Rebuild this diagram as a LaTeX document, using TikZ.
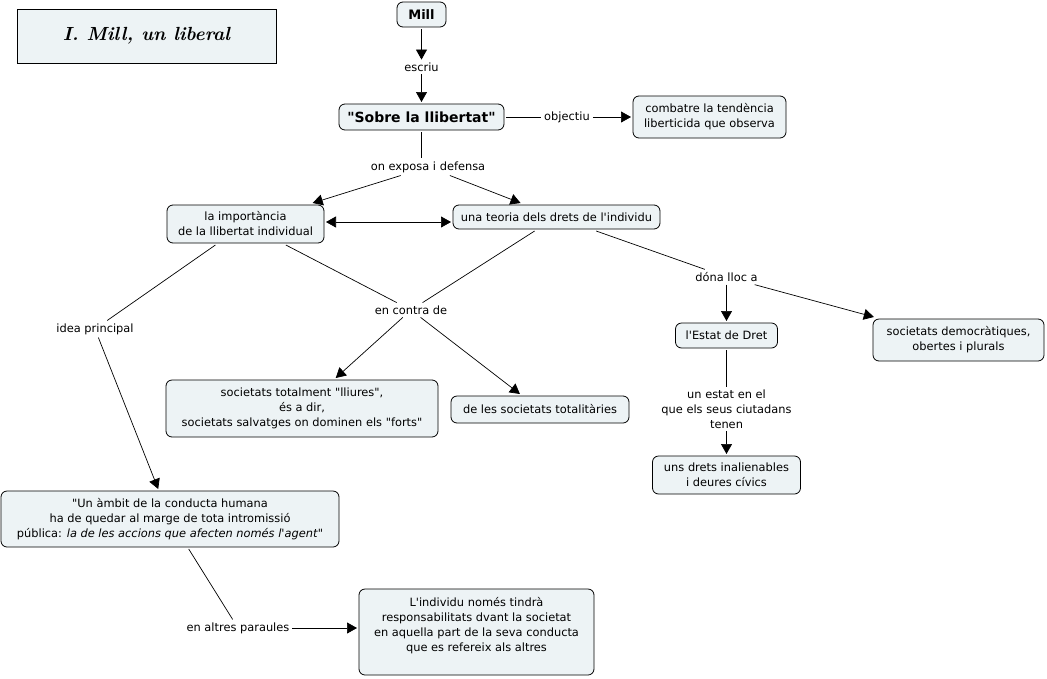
\documentclass[tikz,border=0pt]{standalone}
\usepackage{fontspec}
\newfontfamily\dv{DejaVu Sans}
\usetikzlibrary{arrows.meta}
\definecolor{boxfill}{RGB}{237,243,245}
\newcommand\ap{\textquotesingle}
\begin{document}
\begin{tikzpicture}[x=1pt,y=-1pt,
  base/.style={align=center,font=\dv\fontsize{11.4}{15}\selectfont},
  box/.style={base,draw=black,line width=0.8pt,rounded corners=6pt,fill=boxfill,inner sep=0pt,outer sep=2pt},
  lab/.style={base,fill=white,inner sep=1pt,outer sep=2pt},
  con/.style={line width=0.7pt},
  arr/.style={con,-{Triangle[length=10pt,width=11pt]}},
  dbl/.style={con,{Triangle[length=10pt,width=11pt]}-{Triangle[length=10pt,width=11pt]}}]
\useasboundingbox (0,0) rectangle (1047,678);
% title
\node[draw=black,line width=0.8pt,fill=boxfill,minimum width=259pt,minimum height=54pt,
  font=\rmfamily\bfseries\itshape\fontsize{19}{22}\selectfont] (title) at (146.5,36) {I. Mill, un liberal};
% boxes
\node[box,minimum width=49pt,minimum height=25pt,font=\dv\bfseries\fontsize{13}{15}\selectfont] (mill) at (421.5,14.5) {Mill};
\node[box,minimum width=165pt,minimum height=26pt,font=\dv\bfseries\fontsize{14}{16}\selectfont] (sobre) at (421.5,117) {"Sobre la llibertat"};
\node[box,minimum width=153pt,minimum height=42pt] (comb) at (709.5,117) {combatre la tendència\\liberticida que observa};
\node[box,minimum width=157pt,minimum height=38pt] (imp) at (245.5,224) {la importància\\de la llibertat individual};
\node[box,minimum width=207pt,minimum height=24pt] (teo) at (556.5,217) {una teoria dels drets de l\ap individu};
\node[box,minimum width=272pt,minimum height=57pt] (soc) at (302,408.5) {societats totalment "lliures",\\és a dir,\\societats salvatges on dominen els "forts"};
\node[box,minimum width=178pt,minimum height=27pt] (tot) at (540,409.5) {de les societats totalitàries};
\node[box,minimum width=102pt,minimum height=25pt] (estat) at (726.5,335.5) {l\ap Estat de Dret};
\node[box,minimum width=171pt,minimum height=42pt] (dem) at (958.5,340) {societats democràtiques,\\obertes i plurals};
\node[box,minimum width=148pt,minimum height=38pt] (drets) at (726.5,475) {uns drets inalienables\\i deures cívics};
\node[box,minimum width=338pt,minimum height=56pt] (ambit) at (170,519) {"Un àmbit de la conducta humana\\ha de quedar al marge de tota intromissió\\pública: \textit{la de les accions que afecten només l\ap agent}"};
\node[box,minimum width=235pt,minimum height=86pt] (indiv) at (476.5,632) {L\ap individu només tindrà\\responsabilitats dvant la societat\\en aquella part de la seva conducta\\que es refereix als altres\\\mbox{}};
% labels
\node[lab] (escriu) at (421.5,67) {escriu};
\node[lab] (obj) at (567,117) {objectiu};
\node[lab] (onexp) at (428,167) {on exposa i defensa};
\node[lab] (idea) at (95,329) {idea principal};
\node[lab] (contra) at (411,310) {en contra de};
\node[lab] (dona) at (726.5,277) {dóna lloc a};
\node[lab] (unestat) at (726.5,409) {un estat en el\\que els seus ciutadans\\tenen};
\node[lab] (altres) at (238,628) {en altres paraules};
% connectors
\draw[arr] (mill) -- (escriu);
\draw[arr] (escriu) -- (sobre);
\draw[con] (sobre) -- (obj);
\draw[arr] (obj) -- (comb);
\draw[con] (sobre.south) -- (sobre.south |- onexp.north);
\draw[arr] (onexp) -- (imp);
\draw[arr] (onexp) -- (teo);
\draw[dbl] ([yshift=2pt]imp.east) -- ([yshift=2pt]imp.east -| teo.west);
\draw[con] (imp) -- (idea);
\draw[arr] (idea) -- (ambit);
\draw[con] (imp) -- (contra);
\draw[con] (teo) -- (contra);
\draw[arr] (contra) -- (soc);
\draw[arr] (contra) -- (tot);
\draw[con] (teo) -- (dona);
\draw[arr] (dona) -- (estat);
\draw[arr] (dona) -- (dem);
\draw[con] (estat) -- (unestat);
\draw[arr] (unestat) -- (drets);
\draw[con] (ambit) -- (altres);
\draw[arr] (altres.east) -- (altres.east -| indiv.west);
\end{tikzpicture}
\end{document}
